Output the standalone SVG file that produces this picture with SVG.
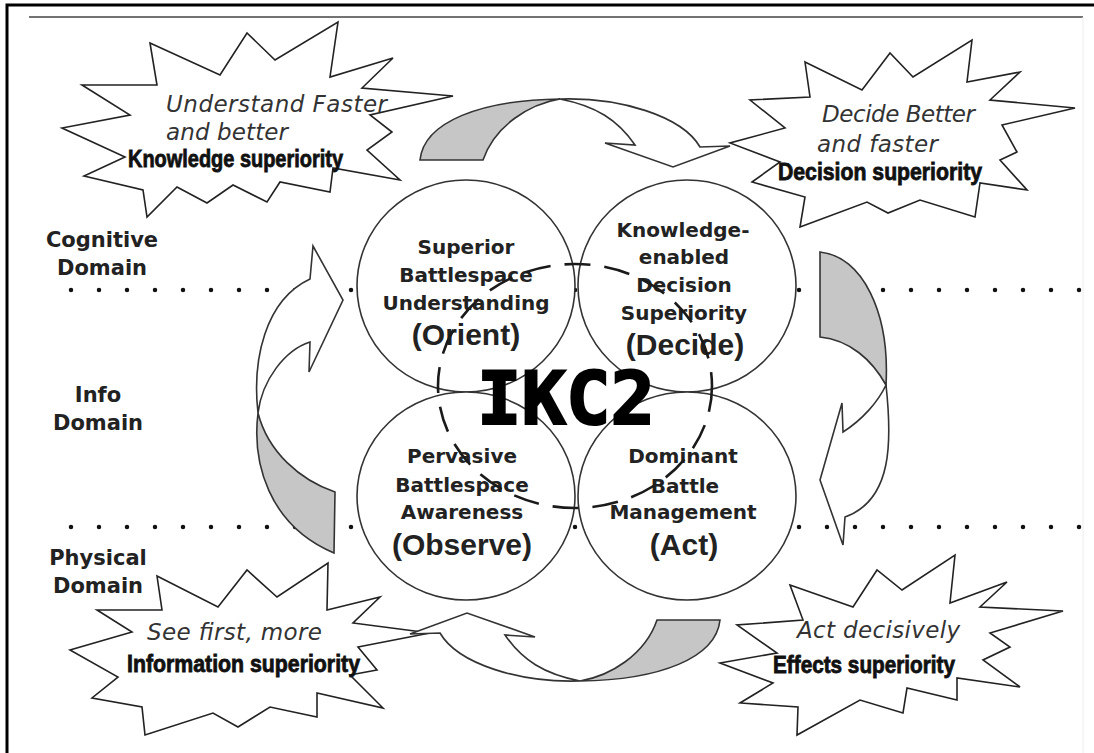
<svg xmlns="http://www.w3.org/2000/svg" width="1094" height="753" viewBox="0 0 1094 753">
<defs>
<style>
.sb{fill:#fff;stroke:#222;stroke-width:1.6;stroke-linejoin:miter;}
.circ{fill:#fff;stroke:#333;stroke-width:1.6;}
.aw{fill:#fff;stroke:#333;stroke-width:1.6;stroke-linejoin:miter;}
.ag{fill:#c6c6c6;stroke:#333;stroke-width:1.6;stroke-linejoin:miter;}
.lbl{font-family:"DejaVu Sans",Verdana,sans-serif;font-weight:bold;font-size:20px;fill:#222;text-anchor:middle;}
.big{font-family:"Liberation Sans",Arial,sans-serif;font-weight:bold;font-size:30px;fill:#222;text-anchor:middle;}
.dom{font-family:"DejaVu Sans",Verdana,sans-serif;font-weight:bold;font-size:21px;fill:#222;text-anchor:middle;}
.it{font-family:"DejaVu Sans",Verdana,sans-serif;font-style:italic;font-size:23px;fill:#333;}
.sup{font-family:"Liberation Sans Narrow","Liberation Sans",Arial,sans-serif;font-weight:bold;font-size:23px;fill:#111;stroke:#111;stroke-width:0.8;}
.dots{stroke:#111;stroke-width:4.5;stroke-linecap:round;stroke-dasharray:0 28;fill:none;}
</style>
</defs>
<rect x="0" y="0" width="1094" height="753" fill="#fff"/>
<g id="frame">
<path d="M7,753 V5 H1094" fill="none" stroke="#000" stroke-width="3"/>
<line x1="29" y1="17" x2="1083" y2="17" stroke="#444" stroke-width="1.5"/>
<line x1="1083" y1="17" x2="1083" y2="753" stroke="#ececec" stroke-width="1"/>
</g>
<g id="domain-lines">
<line class="dots" x1="71" y1="290" x2="1080" y2="290"/>
<line class="dots" x1="71" y1="527" x2="1080" y2="527"/>
</g>
<g id="domain-labels">
<text class="dom" x="102" y="247">Cognitive</text>
<text class="dom" x="102" y="275">Domain</text>
<text class="dom" x="98" y="402">Info</text>
<text class="dom" x="98" y="430">Domain</text>
<text class="dom" x="98" y="565">Physical</text>
<text class="dom" x="98" y="593">Domain</text>
</g>
<g id="burst-knowledge">
<polygon class="sb" points="150,43 220,75 247,33 275,60 338,22 330,77 393,58 362,88 453,96 370,115 392,132 367,150 400,180 333,168 330,192 280,182 267,202 233,185 207,203 177,187 147,217 143,190 84,176 125,157 62,128 130,115 82,85 157,85"/>
<text class="it" x="166" y="112" textLength="221">Understand Faster</text>
<text class="it" x="166" y="140" textLength="122">and better</text>
<text class="sup" x="128" y="167" textLength="215" lengthAdjust="spacingAndGlyphs">Knowledge superiority</text>
</g>
<g id="burst-decision">
<polygon class="sb" points="805,62 862,90 890,53 913,77 972,40 967,82 1020,72 990,100 1075,108 1002,125 1017,152 1000,160 1027,190 980,183 975,217 920,200 888,213 867,202 800,227 805,197 752,182 780,162 730,143 785,128 750,100 810,97"/>
<text class="it" x="822" y="122" textLength="153">Decide Better</text>
<text class="it" x="817" y="152" textLength="121">and faster</text>
<text class="sup" x="778" y="180" textLength="204" lengthAdjust="spacingAndGlyphs">Decision superiority</text>
</g>
<g id="burst-information">
<polygon class="sb" points="157,576 218,607 247,570 277,597 328,563 327,610 380,597 353,623 430,633 358,647 377,670 350,675 383,708 317,693 317,717 270,707 238,727 213,713 145,735 142,707 92,698 118,677 70,650 132,632 97,610 162,610"/>
<text class="it" x="147" y="640" textLength="175">See first, more</text>
<text class="sup" x="127" y="672" textLength="233" lengthAdjust="spacingAndGlyphs">Information superiority</text>
</g>
<g id="burst-effects">
<polygon class="sb" points="790,585 853,607 877,570 902,590 955,555 950,603 1007,582 980,607 1063,611 990,633 1010,647 983,660 1020,687 957,678 957,700 907,688 903,713 860,700 797,735 798,707 740,703 773,683 720,663 777,653 737,625 803,620"/>
<text class="it" x="797" y="638" textLength="163">Act decisively</text>
<text class="sup" x="773" y="673" textLength="182" lengthAdjust="spacingAndGlyphs">Effects superiority</text>
</g>
<g id="connectors">
<g id="arrow-top">
<path class="ag" d="M420,160 C424,122 480,100 560,99 C530,104 495,125 483,160 Z"/>
<path class="aw" d="M560,99 C620,97 682,116 700,147 L730,146 L673,167 L605,143 L635,145 C618,120 596,106 560,99 Z"/>
</g>
<g id="arrow-bottom" transform="rotate(180 570 390)">
<path class="ag" d="M420,160 C424,122 480,100 560,99 C530,104 495,125 483,160 Z"/>
<path class="aw" d="M560,99 C620,97 682,116 700,147 L730,146 L673,167 L605,143 L635,145 C618,120 596,106 560,99 Z"/>
</g>
<g id="arrow-left">
<path class="ag" d="M258,413 C252,462 268,525 334,553 L335,492 C300,480 268,452 258,413 Z"/>
<path class="aw" d="M258,413 C252,360 265,300 310,279 L313,246 L343,300 L309,372 L310,342 C285,350 262,380 258,413 Z"/>
</g>
<g id="arrow-right">
<path class="ag" d="M820,252 C862,256 890,312 886,385 C872,360 850,340 820,337 Z"/>
<path class="aw" d="M886,385 C892,440 893,500 845,517 L843,545 L820,480 L842,403 L843,432 C862,420 878,402 886,385 Z"/>
</g>
</g>
<g id="node-orient">
<ellipse class="circ" cx="466" cy="286" rx="109" ry="106"/>
<text class="lbl" x="466" y="254">Superior</text>
<text class="lbl" x="466" y="282">Battlespace</text>
<text class="lbl" x="466" y="310">Understanding</text>
<text class="big" x="466" y="345">(Orient)</text>
</g>
<g id="node-decide">
<ellipse class="circ" cx="687" cy="286" rx="109" ry="106"/>
<text class="lbl" x="683" y="237">Knowledge-</text>
<text class="lbl" x="684" y="264">enabled</text>
<text class="lbl" x="684" y="292">Decision</text>
<text class="lbl" x="684" y="320">Superiority</text>
<text class="big" x="685" y="355">(Decide)</text>
</g>
<g id="node-observe">
<ellipse class="circ" cx="466" cy="496" rx="109" ry="104"/>
<text class="lbl" x="462" y="463">Pervasive</text>
<text class="lbl" x="462" y="492">Battlespace</text>
<text class="lbl" x="462" y="519">Awareness</text>
<text class="big" x="462" y="555">(Observe)</text>
</g>
<g id="node-act">
<ellipse class="circ" cx="687" cy="496" rx="109" ry="104"/>
<text class="lbl" x="683" y="463">Dominant</text>
<text class="lbl" x="685" y="493">Battle</text>
<text class="lbl" x="683" y="519">Management</text>
<text class="big" x="684" y="555">(Act)</text>
</g>
<g id="node-ikc2">
<text x="566" y="424" font-family="'DejaVu Sans Mono',monospace" font-weight="bold" font-size="73" fill="#000" stroke="#000" stroke-width="2.2" text-anchor="middle" textLength="178" lengthAdjust="spacingAndGlyphs">IKC2</text>
<ellipse cx="575" cy="386" rx="137" ry="122" fill="none" stroke="#1a1a1a" stroke-width="2.6" stroke-dasharray="26 14"/>
</g>
</svg>
